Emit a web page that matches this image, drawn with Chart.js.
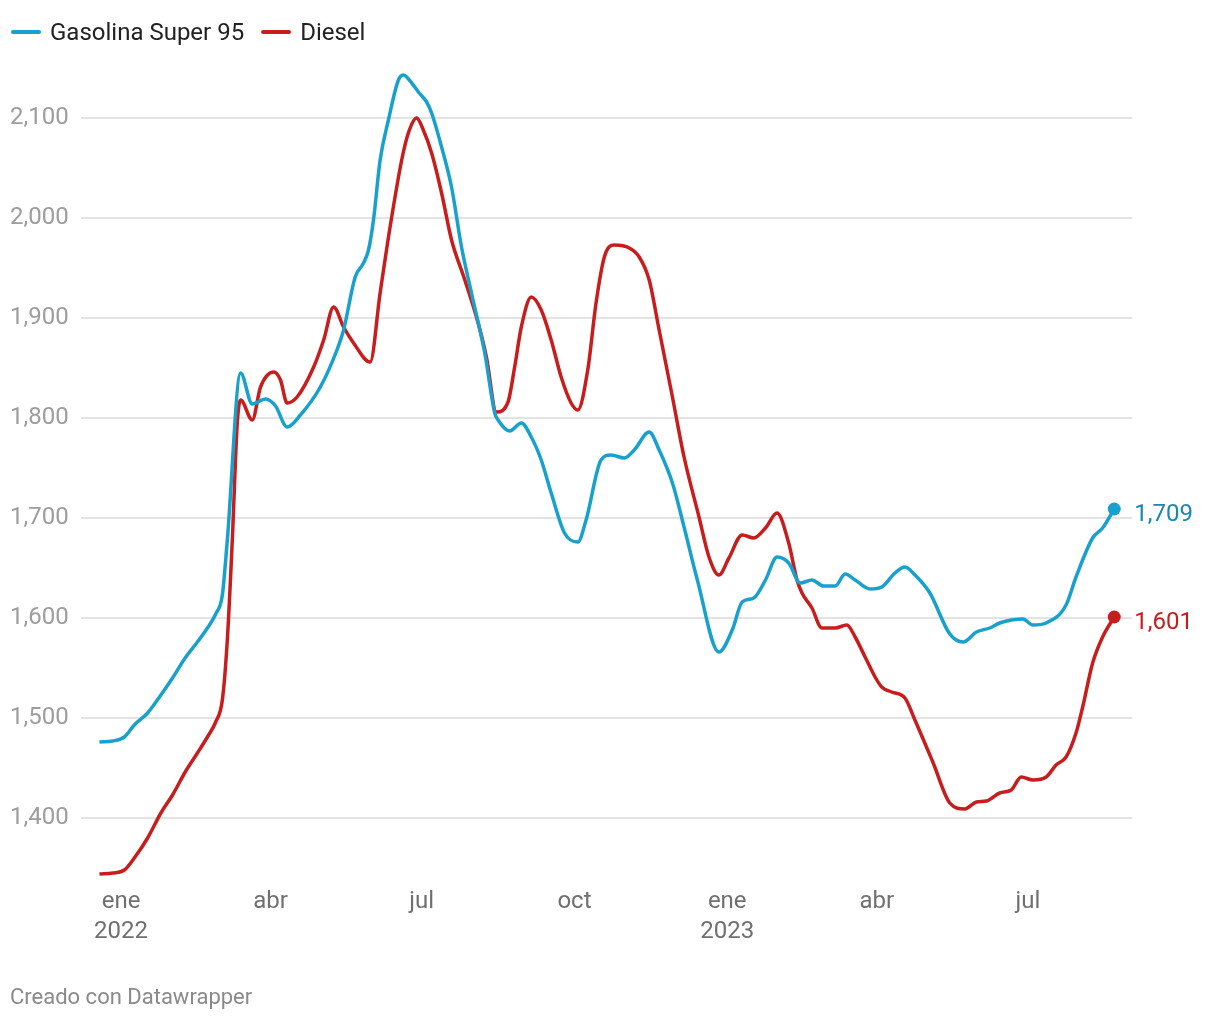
<!DOCTYPE html>
<html lang="es">
<head>
<meta charset="utf-8">
<title>Gasolina Super 95 y Diesel</title>
<script src="https://cdn.jsdelivr.net/npm/chart.js@4/dist/chart.umd.min.js"></script>
<style>
    html, body {
        margin: 0;
        padding: 0;
        background: #fff;
        font-family: Roboto, "Noto Sans", sans-serif;
    }
    .wrap {
        position: relative;
        width: 1220px;
        height: 1020px;
    }
    #chart {
        position: absolute;
        left: 0;
        top: 0;
    }
    .legend {
        position: absolute;
        left: 11px;
        top: 18px;
        display: flex;
        align-items: center;
        font-size: 24px;
        line-height: 28px;
        color: #222;
    }
    .legend .item {
        display: flex;
        align-items: center;
        margin-right: 17px;
    }
    .legend .swatch {
        width: 30px;
        height: 4px;
        border-radius: 2px;
        margin-right: 9px;
    }
    .footer {
        position: absolute;
        left: 10px;
        top: 984px;
        font-size: 22px;
        line-height: 26px;
        color: #8a8a8a;
    }
</style>
</head>
<body>
<div class="wrap">
    <canvas id="chart" width="1220" height="1020"></canvas>
    <div class="legend">
        <div class="item"><span class="swatch" style="background:#18a1cd"></span>Gasolina Super 95</div>
        <div class="item"><span class="swatch" style="background:#c71e1d"></span>Diesel</div>
    </div>
    <div class="footer">Creado con Datawrapper</div>
</div>
<script>
// días desde el 1 de enero de 2022
const gasDias = [-13, -5, 2, 8, 16, 24, 31, 39, 46, 52, 57, 61, 64, 72, 79, 87, 93, 100, 108, 120,
    130, 134, 141, 146, 149, 152, 156, 161, 167, 170, 175, 179, 184, 187, 193, 199, 205, 211, 219,
    225, 227, 234, 241, 247, 253, 259, 267, 275, 280, 289, 295, 303, 309, 318, 324, 332, 339, 347,
    360, 368, 374, 381, 388, 395, 402, 409, 416, 423, 430, 436, 442, 451, 458, 466, 472, 478, 487,
    499, 507, 515, 523, 529, 543, 549, 557, 569, 575, 585, 591, 598];
const gasPrecio = [1.476, 1.477, 1.481, 1.493, 1.505, 1.523, 1.540, 1.561, 1.576, 1.590, 1.604, 1.623,
    1.678, 1.845, 1.814, 1.819, 1.812, 1.791, 1.803, 1.831,
    1.868, 1.888, 1.941, 1.955, 1.968, 1.998, 2.058, 2.098, 2.138, 2.143, 2.135, 2.126, 2.116, 2.105,
    2.071, 2.031, 1.971, 1.925, 1.865,
    1.805, 1.798, 1.787, 1.795, 1.781, 1.758, 1.725, 1.685, 1.676, 1.698, 1.758, 1.763, 1.760, 1.768,
    1.786, 1.768, 1.735, 1.691, 1.638,
    1.566, 1.588, 1.616, 1.620, 1.638, 1.661, 1.655, 1.635, 1.638, 1.632, 1.632, 1.644, 1.638, 1.629,
    1.631, 1.645, 1.651, 1.643, 1.625,
    1.584, 1.576, 1.586, 1.590, 1.595, 1.599, 1.593, 1.595, 1.613, 1.641, 1.680, 1.690, 1.709];

const dieselDias = [-13, -5, 2, 8, 16, 24, 31, 39, 46, 52, 57, 61, 64, 67, 70, 72, 79, 84, 92, 96, 100,
    106, 116, 122, 128, 134, 140, 150, 156, 162, 169, 173, 178, 182, 187, 193, 199, 207, 215, 220,
    226, 233, 237, 241, 247, 253, 259, 265, 271, 275, 281, 286, 291, 297, 306, 312, 318, 324, 332,
    339, 348, 354, 360, 366, 374, 381, 388, 395, 402, 407, 410, 416, 422, 430, 437, 442, 448, 454,
    458, 464, 472, 478, 489, 499, 508, 515, 521, 529, 536, 542, 549, 557, 563, 569, 575, 579, 585,
    591, 598];
const dieselPrecio = [1.344, 1.345, 1.348, 1.360, 1.380, 1.405, 1.423, 1.447, 1.465, 1.481, 1.496,
    1.518, 1.578, 1.678, 1.795, 1.818, 1.798, 1.831, 1.846, 1.838, 1.815,
    1.821, 1.851, 1.878, 1.911, 1.891, 1.875, 1.856, 1.925, 1.991, 2.058, 2.085, 2.100, 2.088, 2.065,
    2.025, 1.978, 1.938, 1.895, 1.861,
    1.806, 1.816, 1.851, 1.891, 1.921, 1.908, 1.878, 1.841, 1.815, 1.808, 1.848, 1.915, 1.961, 1.973,
    1.970, 1.961, 1.938, 1.888, 1.821,
    1.761, 1.701, 1.661, 1.643, 1.660, 1.683, 1.680, 1.690, 1.705, 1.675, 1.638, 1.625, 1.610, 1.590,
    1.590, 1.593, 1.581, 1.561, 1.541,
    1.531, 1.526, 1.520, 1.498, 1.455, 1.415, 1.409, 1.416, 1.417, 1.425, 1.428, 1.441, 1.438, 1.441,
    1.453, 1.461, 1.485, 1.511, 1.555,
    1.581, 1.601];

const tickDias = [0, 90, 181, 273, 365, 455, 546];
const tickEtiquetas = [['ene', '2022'], 'abr', 'jul', 'oct', ['ene', '2023'], 'abr', 'jul'];
const yTicks = [1.4, 1.5, 1.6, 1.7, 1.8, 1.9, 2.0, 2.1];

const AZUL = '#18a1cd';
const ROJO = '#c71e1d';

const fmt = (v) => v.toFixed(3).replace('.', ',');

const toPoints = (xs, ys) => xs.map((x, i) => ({ x, y: ys[i] }));

const lastOnly = (ctx) => (ctx.dataIndex === ctx.dataset.data.length - 1 ? 6.5 : 0);

const endLabels = {
    id: 'endLabels',
    afterDatasetsDraw(chart) {
        const { ctx } = chart;
        ctx.save();
        ctx.font = '24px Roboto, "Noto Sans", sans-serif';
        ctx.textAlign = 'left';
        ctx.textBaseline = 'middle';
        chart.data.datasets.forEach((ds, i) => {
            const meta = chart.getDatasetMeta(i);
            const pt = meta.data[meta.data.length - 1];
            if (!pt) {
                return;
            }
            ctx.fillStyle = ds.labelColor;
            ctx.fillText(fmt(ds.data[ds.data.length - 1].y), pt.x + 20, pt.y + 6);
        });
        ctx.restore();
    },
};

new Chart(document.getElementById('chart'), {
    type: 'line',
    data: {
        datasets: [
            {
                label: 'Gasolina Super 95',
                data: toPoints(gasDias, gasPrecio),
                borderColor: AZUL,
                backgroundColor: AZUL,
                labelColor: '#1688b3',
                borderWidth: 3.5,
                pointRadius: lastOnly,
                pointHoverRadius: 0,
                pointBorderWidth: 0,
                cubicInterpolationMode: 'monotone',
            },
            {
                label: 'Diesel',
                data: toPoints(dieselDias, dieselPrecio),
                borderColor: ROJO,
                backgroundColor: ROJO,
                labelColor: ROJO,
                borderWidth: 3.5,
                pointRadius: lastOnly,
                pointHoverRadius: 0,
                pointBorderWidth: 0,
                cubicInterpolationMode: 'monotone',
            },
        ],
    },
    options: {
        responsive: false,
        animation: false,
        events: [],
        clip: false,
        layout: {
            padding: { left: 10, right: 88, top: 58, bottom: 62 },
        },
        plugins: {
            legend: { display: false },
            tooltip: { enabled: false },
        },
        scales: {
            x: {
                type: 'linear',
                min: -24.1,
                max: 608.7,
                afterBuildTicks: (axis) => {
                    axis.ticks = tickDias.map((v) => ({ value: v }));
                },
                afterFit: (axis) => {
                    axis.height = 80;
                },
                grid: { display: false, drawTicks: false },
                border: { display: false },
                ticks: {
                    autoSkip: false,
                    maxRotation: 0,
                    padding: 9,
                    color: '#707070',
                    font: { family: 'Roboto', size: 24, lineHeight: 1.25 },
                    callback: (value) => {
                        const i = tickDias.indexOf(value);
                        return i >= 0 ? tickEtiquetas[i] : '';
                    },
                },
            },
            y: {
                min: 1.34,
                max: 2.16,
                afterBuildTicks: (axis) => {
                    axis.ticks = yTicks.map((v) => ({ value: v }));
                },
                afterFit: (axis) => {
                    axis.width = 71;
                },
                grid: { color: '#e3e3e3', lineWidth: 2, drawTicks: false },
                border: { display: false },
                ticks: {
                    crossAlign: 'far',
                    padding: 0,
                    color: '#9d9d9d',
                    font: { family: 'Roboto', size: 24 },
                    callback: (value) => fmt(value),
                },
            },
        },
    },
    plugins: [endLabels],
});
</script>
</body>
</html>
